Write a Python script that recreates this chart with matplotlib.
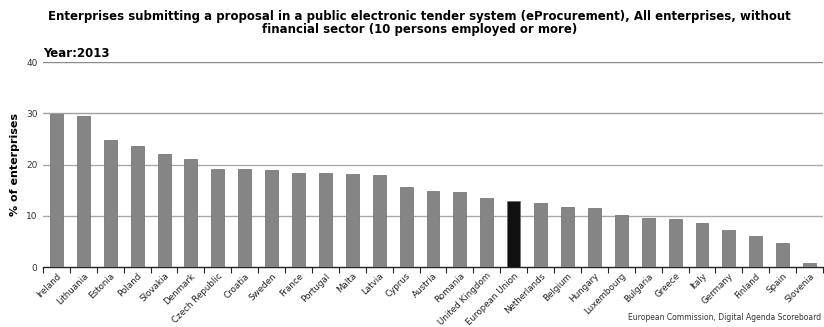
import matplotlib
matplotlib.use("Agg")
import matplotlib.pyplot as plt
import numpy as np

countries = ["Ireland", "Lithuania", "Estonia", "Poland", "Slovakia", "Denmark",
             "Czech Republic", "Croatia", "Sweden", "France", "Portugal", "Malta",
             "Latvia", "Cyprus", "Austria", "Romania", "United Kingdom",
             "European Union", "Netherlands", "Belgium", "Hungary", "Luxembourg",
             "Bulgaria", "Greece", "Italy", "Germany", "Finland", "Spain", "Slovenia"]
values = [29.9, 29.4, 24.8, 23.6, 22.0, 21.2, 19.2, 19.1, 18.9, 18.4, 18.3, 18.1,
          17.9, 15.7, 14.9, 14.6, 13.5, 13.0, 12.5, 11.8, 11.6, 10.1, 9.7, 9.4,
          8.7, 7.3, 6.1, 4.8, 0.8]
yticks = [0, 10, 20, 30, 40]
highlight = "European Union"

fig = plt.figure(figsize=(8.24, 3.27), dpi=100)
ax = fig.add_axes([0.0522, 0.1826, 0.9466, 0.6275])

x = np.arange(len(countries))
colors = ["#111111" if c == highlight else "#858585" for c in countries]
ax.bar(x, values, width=0.48, color=colors, edgecolor="#6a6a6a", linewidth=0.5, zorder=3)

ax.set_xlim(-0.5, len(countries) - 0.5)
ax.set_ylim(0, 40)
ax.set_yticks(yticks)
ax.set_yticklabels([str(t) for t in yticks], fontsize=6.5, color="#333333")
ax.tick_params(axis="y", length=0, pad=4)
grid_colors = {10: "#aaaaaa", 20: "#aaaaaa", 30: "#a0a0a0", 40: "#8a8a8a"}
for t in yticks[1:]:
    ax.axhline(t, color=grid_colors[t], linewidth=1.0, zorder=1)

# category labels, with boundary ticks between the bars
ax.set_xticks(x)
ax.set_xticklabels(countries, rotation=45, ha="right", rotation_mode="anchor",
                   fontsize=6.3, color="#222222")
ax.tick_params(axis="x", length=0, pad=3)
ax.set_xticks(np.arange(-0.5, len(countries)), minor=True)
ax.tick_params(axis="x", which="minor", length=4, width=0.8, color="#222222")

for s in ["top", "right", "left"]:
    ax.spines[s].set_visible(False)
ax.spines["bottom"].set_color("#222222")
ax.spines["bottom"].set_linewidth(1.0)

ax.set_ylabel("% of enterprises", fontsize=8, fontweight="bold", labelpad=4)

fig.text(0.509, 0.968,
         "Enterprises submitting a proposal in a public electronic tender system (eProcurement), All enterprises, without\nfinancial sector (10 persons employed or more)",
         ha="center", va="top", fontsize=8.5, fontweight="bold", linespacing=1.0)
fig.text(0.052, 0.835, "Year:2013", ha="left", va="center", fontsize=8.5,
         fontweight="bold")
fig.text(0.997, 0.015, "European Commission, Digital Agenda Scoreboard",
         ha="right", va="bottom", fontsize=5.5, color="#333333")

fig.savefig("out.png", dpi=100)
